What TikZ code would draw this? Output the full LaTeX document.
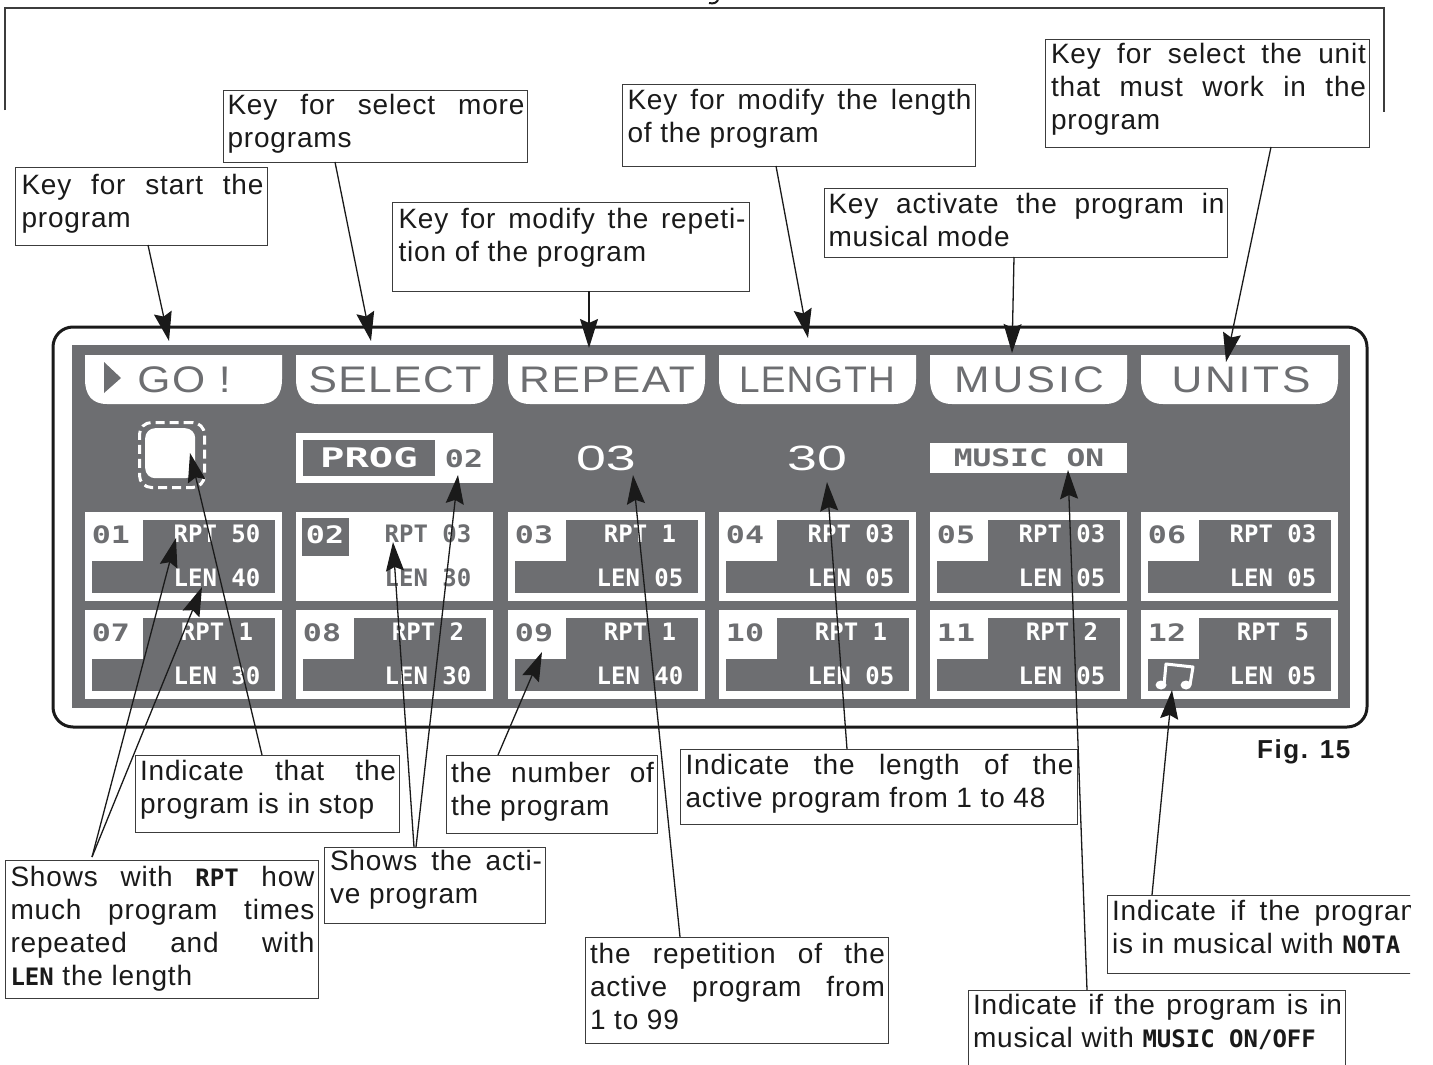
\documentclass[tikz,border=0pt]{standalone}
\usepackage{fontspec}
\usetikzlibrary{arrows.meta}
\setmainfont{Liberation Sans}
\newfontfamily\calfont[LetterSpace=3]{Liberation Sans}
\newfontfamily\segfont{DejaVu Sans Mono}
\definecolor{panelgray}{HTML}{6D6E71}
\definecolor{inkblack}{HTML}{1A1A1A}
\hbadness=10000 \hfuzz=50pt \vfuzz=50pt \vbadness=10000
\newdimen\padl
% one justified line and one natural line of a callout
\newcommand\jf[2]{\moveright\padl\hbox to #1pt{#2}}
\newcommand\nl[1]{\moveright\padl\hbox{#1}}
\newcommand\sg[1]{{\segfont\bfseries\fontsize{24}{24}\selectfont #1}}
% name, x, y, w, h, left pad, first baseline, lines
\newcommand\callout[8]{%
  \node[callbox,anchor=north west,minimum width=#4pt,minimum height=#5pt] (#1) at (#2,#3)
  {\vbox to #5pt{\hsize=#4pt \padl=\dimexpr #6pt-2pt\relax \baselineskip=33pt \parindent=0pt
     \hrule height 0pt \vskip\dimexpr #7pt-34pt\relax \prevdepth=0pt
     #8\vss}};}
% name, x, text, letterspace, centre, x-scale
\newcommand\keylab[6]{%
  \fill[white] (#2,355) -- (#2+197,355) -- (#2+197,379)
    .. controls (#2+197,395) and (#2+190,404) .. (#2+175,404) -- (#2+22,404)
    .. controls (#2+7,404) and (#2,395) .. (#2,379) -- cycle;
  \node[keytext,anchor=base] (#1) at (#5,392.5) {\scalebox{#6}[1]{\addfontfeature{LetterSpace=#4}#3}};}
% name, x, y, number, rpt, len
\newcommand\cell[6]{%
  \node[cellframe,anchor=north west] (#1) at (#2,#3) {};
  \fill[panelgray] (#2+7,#3+8) rectangle (#2+190,#3+81);
  \node[tabbox,anchor=north west] (#1t) at (#2,#3) {};
  \node[numtext,anchor=base] (#1n) at (#2+26,#3+31) {\scalebox{1.32}[1]{#4}};
  \node[rowtext,anchor=base] (#1r) at (#2+132,#3+30) {#5};
  \node[rowtext,anchor=base] (#1l) at (#2+132,#3+74) {#6};}
\tikzset{
  x=1pt,y=-1pt,
  callbox/.style={draw=inkblack!85,line width=0.9pt,inner sep=0pt,outer sep=0pt,fill=none,
    font=\calfont\fontsize{28}{33}\selectfont,text=inkblack},
  keytext/.style={inner sep=0pt,text=panelgray,font=\fontsize{37}{37}\selectfont},
  cellframe/.style={fill=white,draw=none,minimum width=197pt,minimum height=89pt,inner sep=0pt,outer sep=0pt},
  tabbox/.style={fill=white,draw=none,minimum width=58pt,minimum height=49pt,inner sep=0pt,outer sep=0pt},
  numtext/.style={inner sep=0pt,text=panelgray,font=\segfont\bfseries\fontsize{24}{24}\selectfont},
  rowtext/.style={inner sep=0pt,text=white,font=\segfont\bfseries\fontsize{24}{24}\selectfont},
  bigdigit/.style={inner sep=0pt,text=white,font=\fontsize{37}{37}\selectfont},
  arr/.style={draw=inkblack,line width=1.3pt,-{Stealth[length=29pt,width=18pt,inset=4pt]},shorten <=0pt},
}
\begin{document}
\begin{tikzpicture}
\useasboundingbox (0,0) rectangle (1433,1065);
\fill[white] (0,0) rectangle (1433,1065);
\clip (0,0) rectangle (1410,1065);
% top frame
\draw[inkblack!85,line width=1.3pt] (5,110) -- (5,8) -- (1384,8) -- (1384,112);
\draw[inkblack,line width=2pt] (709,3) .. controls (714,4) and (716,3) .. (718,0);
% panel
\node[draw=inkblack,line width=3pt,rounded corners=20pt,minimum width=1314pt,minimum height=400pt,
  inner sep=0pt,outer sep=0pt,anchor=north west] (panel) at (53,327) {};
\node[fill=panelgray,minimum width=1278pt,minimum height=363pt,inner sep=0pt,outer sep=0pt,
  anchor=north west] (screen) at (72,345) {};
% keys
\keylab{kgo}{85}{GO !}{4}{184}{1.15}
\keylab{ksel}{296}{SELECT}{3.4}{395}{1.15}
\keylab{krep}{508}{REPEAT}{4}{607}{1.15}
\keylab{klen}{719}{LENGTH}{3}{817}{1}
\fill[panelgray] (104,362) -- (121,378) -- (104,393) -- cycle;
\keylab{kmus}{930}{MUSIC}{7.5}{1029}{1.15}
\keylab{kuni}{1141}{UNITS}{6.6}{1241}{1.15}
% status row
\node[fill=white,draw=none,rounded corners=10pt,minimum width=50pt,minimum height=50pt,inner sep=0pt,
  anchor=north west] (stop) at (145,428) {};
\node[draw=white,line width=3pt,dash pattern=on 9pt off 5pt,rounded corners=12pt,minimum width=65pt,
  minimum height=65pt,inner sep=0pt,anchor=north west] (stopd) at (138,421) {};
\node[fill=white,minimum width=197pt,minimum height=50pt,inner sep=0pt,outer sep=0pt,anchor=north west]
  (progbox) at (296,433) {};
\fill[panelgray] (303,440) rectangle (435,476);
\node[rowtext,anchor=base,font=\segfont\bfseries\fontsize{27}{27}\selectfont] (progt) at (369,467) {\scalebox{1.5}[1]{PROG}};
\node[numtext,anchor=base] (prognum) at (464,467) {\scalebox{1.32}[1]{02}};
\node[bigdigit,anchor=base] (dig03) at (606,470) {\scalebox{1.45}[0.95]{03}};
\node[bigdigit,anchor=base] (dig30) at (817,470) {\scalebox{1.45}[0.95]{30}};
\node[fill=white,minimum width=197pt,minimum height=30pt,inner sep=0pt,outer sep=0pt,anchor=north west]
  (musicon) at (930,443) {};
\node[numtext,anchor=base] (musicont) at (1029,466) {\scalebox{1.3}[1]{MUSIC ON}};
% cells
\cell{c1}{85}{512}{01}{RPT 50}{LEN 40}
\node[cellframe,anchor=north west] (c2) at (296,512) {};
\node[fill=panelgray,minimum width=47pt,minimum height=38pt,inner sep=0pt,outer sep=0pt,anchor=north west] (c2t) at (302,518) {};
\node[rowtext,anchor=base] (c2n) at (325,543) {\scalebox{1.32}[1]{02}};
\node[numtext,anchor=base] (c2r) at (428,542) {RPT 03};
\node[numtext,anchor=base] (c2l) at (428,586) {LEN 30};
\cell{c3}{508}{512}{03}{RPT 1}{LEN 05}
\cell{c4}{719}{512}{04}{RPT 03}{LEN 05}
\cell{c5}{930}{512}{05}{RPT 03}{LEN 05}
\cell{c6}{1141}{512}{06}{RPT 03}{LEN 05}
\cell{c7}{85}{610}{07}{RPT 1}{LEN 30}
\cell{c8}{296}{610}{08}{RPT 2}{LEN 30}
\cell{c9}{508}{610}{09}{RPT 1}{LEN 40}
\cell{c10}{719}{610}{10}{RPT 1}{LEN 05}
\cell{c11}{930}{610}{11}{RPT 2}{LEN 05}
\cell{c12}{1141}{610}{12}{RPT 5}{LEN 05}
% music note
\fill[white] (1161,685) ellipse (5.5 and 4.5) (1186,685) ellipse (5.5 and 4.5);
\draw[white,line width=3pt,line join=round] (1164,685) -- (1166,664) -- (1193,667) -- (1190,685);
% callouts
\callout{ca}{15}{167}{252}{78}{5}{28}{\jf{242}{Key for start the}\nl{program}}
\callout{cb}{223}{90}{304}{72}{4}{25}{\jf{297}{Key for select more}\nl{programs}}
\callout{cc}{392}{202}{357}{89}{5}{27}{\jf{347}{Key for modify the repeti-}\nl{tion of the program}}
\callout{cd}{622}{84}{353}{82}{4}{26}{\jf{344}{Key for modify the length}\nl{of the program}}
\callout{ce}{824}{188}{403}{69}{4}{26}{\jf{396}{Key activate the program in}\nl{musical mode}}
\callout{cf}{1045}{39}{324}{108}{5}{25}{\jf{315}{Key for select the unit}\jf{315}{that must work in the}\nl{program}}
\callout{cg}{135}{755}{264}{77}{4}{26}{\jf{256}{Indicate that the}\nl{program is in stop}}
\callout{ch}{446}{755}{211}{78}{4}{28}{\jf{203}{the number of}\nl{the program}}
\callout{ci}{680}{749}{397}{75}{4}{26}{\jf{388}{Indicate the length of the}\nl{active program from 1 to 48}}
\callout{cj}{5}{860}{313}{138}{4}{27}{\jf{304}{Shows with \sg{RPT} how}\jf{304}{much program times}\jf{304}{repeated and with}\nl{\sg{LEN} the length}}
\callout{ck}{324}{847}{221}{76}{5}{24}{\jf{212}{Shows the acti-}\nl{ve program}}
\callout{cl}{585}{937}{303}{106}{4}{27}{\jf{295}{the repetition of the}\jf{295}{active program from}\nl{1 to 99}}
\callout{cm}{968}{990}{377}{90}{4}{25}{\jf{369}{Indicate if the program is in}\nl{musical with \sg{MUSIC ON/OFF}}}
\callout{cn}{1107}{895}{320}{78}{4}{26}{\jf{312}{Indicate if the program}\nl{is in musical with \sg{NOTA}}}
\node[anchor=base west,inner sep=0pt,text=inkblack,font=\bfseries\fontsize{26}{26}\selectfont] (figlabel) at (1257,758)
  {\addfontfeature{LetterSpace=6}Fig. 15};
% arrow tips
\coordinate (ta) at (169,341);
\coordinate (tb) at (371,341);
\coordinate (tc) at (589,348);
\coordinate (td) at (808,338);
\coordinate (te) at (1012,353);
\coordinate (tf) at (1226,362);
\coordinate (tg) at (190,453);
\coordinate (th) at (542,652);
\coordinate (ti) at (827,482);
\coordinate (tj1) at (176,538);
\coordinate (tj2) at (202,587);
\coordinate (tk1) at (393,542);
\coordinate (tk2) at (458,475);
\coordinate (tl) at (633,475);
\coordinate (tm) at (1068,470);
\coordinate (tn) at (1172,690);
% connectors
\draw[arr] ([xshift=133pt]ca.south west) -- (ta);
\draw[arr] ([xshift=112pt]cb.south west) -- (tb);
\draw[arr] ([xshift=197pt]cc.south west) -- (tc);
\draw[arr] ([xshift=154pt]cd.south west) -- (td);
\draw[arr] ([xshift=190pt]ce.south west) -- (te);
\draw[arr] ([xshift=226pt]cf.south west) -- (tf);
\draw[arr] ([xshift=127pt]cg.north west) -- (tg);
\draw[arr] ([xshift=52pt]ch.north west) -- (th);
\draw[arr] ([xshift=167pt]ci.north west) -- (ti);
\draw[arr] ([xshift=87pt,yshift=3pt]cj.north west) -- (tj1);
\draw[arr] ([xshift=87pt,yshift=3pt]cj.north west) -- (tj2);
\draw[arr] ([xshift=90pt]ck.north west) -- (tk1);
\draw[arr] ([xshift=92pt]ck.north west) -- (tk2);
\draw[arr] ([xshift=95pt]cl.north west) -- (tl);
\draw[arr] ([xshift=119pt]cm.north west) -- (tm);
\draw[arr] ([xshift=45pt]cn.north west) -- (tn);
\end{tikzpicture}
\end{document}
